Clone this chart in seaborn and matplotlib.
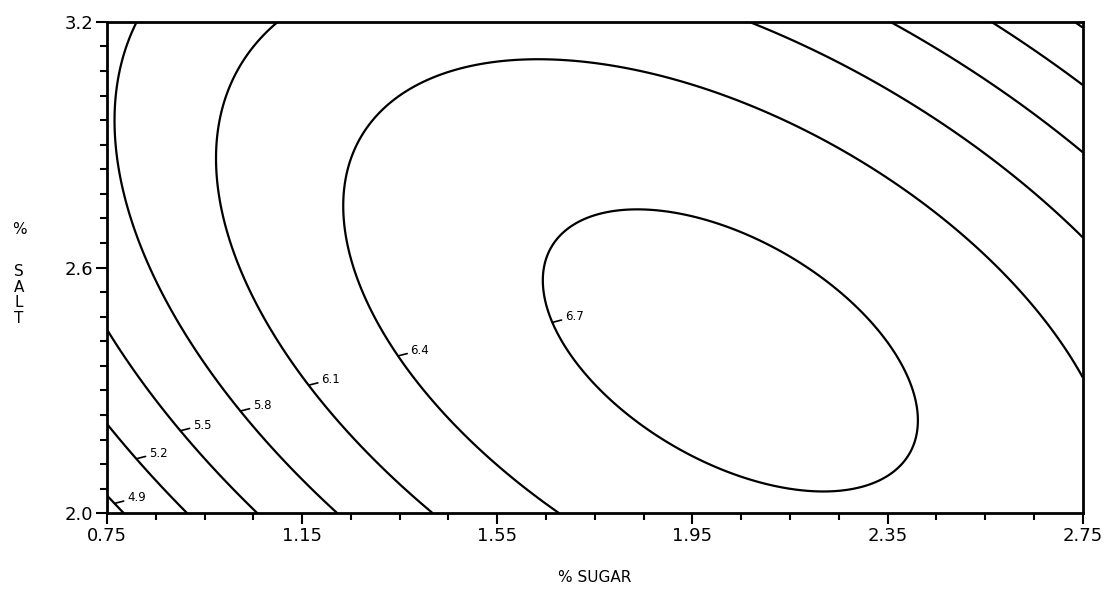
import numpy as np
import matplotlib
matplotlib.use("Agg")
import matplotlib.pyplot as plt
import seaborn as sns

# contour crossings: (% sugar, % salt, level)
sugar_pts = [0.787, 0.914, 1.053, 1.217, 1.422, 1.668,
             0.818, 1.098, 2.074, 2.354, 2.553, 2.723,
             0.75, 0.75, 0.75,
             2.75, 2.75, 2.75, 2.75, 2.75,
             1.848, 1.631, 2.170, 2.416,
             1.658, 1.238, 0.975, 0.766,
             1.357, 1.176, 1.033, 0.910, 0.814]
salt_pts = [2.0, 2.0, 2.0, 2.0, 2.0, 2.0,
            3.2, 3.2, 3.2, 3.2, 3.2, 3.2,
            2.039, 2.208, 2.423,
            2.325, 2.672, 2.883, 3.051, 3.193,
            2.758, 2.587, 2.056, 2.244,
            3.120, 2.692, 2.846, 2.968,
            2.386, 2.313, 2.252, 2.203, 2.134]
level_pts = [4.9, 5.2, 5.5, 5.8, 6.1, 6.4,
             5.8, 6.1, 6.1, 5.8, 5.5, 5.2,
             4.9, 5.2, 5.5,
             6.4, 6.1, 5.8, 5.5, 5.2,
             6.7, 6.7, 6.7, 6.7,
             6.4, 6.4, 6.1, 5.8,
             6.4, 6.1, 5.8, 5.5, 5.2]

levels = [4.9, 5.2, 5.5, 5.8, 6.1, 6.4, 6.7]
# where each level's label sits on its line
label_sugar = [0.766, 0.814, 0.910, 1.029, 1.170, 1.357, 1.658]
label_salt = [2.024, 2.134, 2.203, 2.252, 2.313, 2.386, 2.465]

x_ticks = [0.75, 1.15, 1.55, 1.95, 2.35, 2.75]
y_ticks = [2.0, 2.6, 3.2]

# second-order response surface fitted to the read points
px = np.array(sugar_pts)
py = np.array(salt_pts)
A = np.column_stack([np.ones_like(px), px, py, px**2, py**2, px * py])
beta, *_ = np.linalg.lstsq(A, np.array(level_pts), rcond=None)

gx, gy = np.meshgrid(np.linspace(0.75, 2.75, 400), np.linspace(2.0, 3.2, 400))
gz = (beta[0] + beta[1] * gx + beta[2] * gy + beta[3] * gx**2
      + beta[4] * gy**2 + beta[5] * gx * gy)

sns.set_style("ticks")
plt.rcParams['font.family'] = ['DejaVu Sans']
plt.rcParams['text.color'] = 'black'
plt.rcParams['axes.labelcolor'] = 'black'

fig = plt.figure(figsize=(11.14, 5.92), dpi=100)
ax = fig.add_axes([0.096, 0.133, 0.876, 0.830])

cs = ax.contour(gx, gy, gz, levels=levels, colors="black", linewidths=1.6)

for i, lev in enumerate(levels):
    segs = cs.allsegs[i]
    if not segs:
        continue
    verts = np.vstack(segs)
    d = (verts[:, 0] - label_sugar[i]) ** 2 + ((verts[:, 1] - label_salt[i]) * 1.6) ** 2
    p = verts[np.argmin(d)]
    ax.annotate(f"{lev:.1f}", xy=p, xytext=(9, 4), textcoords="offset points",
                fontsize=8.5, ha="left", va="center", color="black",
                arrowprops=dict(arrowstyle="-", lw=1.2, color="black",
                                shrinkA=0, shrinkB=0))

ax.set_xlim(0.75, 2.75)
ax.set_ylim(2.0, 3.2)
ax.set_xticks(x_ticks)
ax.set_xticklabels([f"{v:.2f}" for v in x_ticks])
ax.set_xticks(np.arange(0.75, 2.76, 0.1), minor=True)
ax.set_yticks(y_ticks)
ax.set_yticklabels([f"{v:.1f}" for v in y_ticks])
ax.set_yticks(np.linspace(2.0, 3.2, 21), minor=True)

ax.tick_params(axis="both", which="major", direction="out", length=8, width=1.5,
               labelsize=13, colors="black", pad=2)
ax.tick_params(axis="both", which="minor", direction="out", length=5, width=1.5,
               colors="black")
for s in ax.spines.values():
    s.set_linewidth(2)
    s.set_color("black")

ax.set_xlabel("% SUGAR", fontsize=11, labelpad=18, color="black")
fig.text(0.017, 0.612, "%", fontsize=11, ha="center", va="center", color="black")
fig.text(0.017, 0.502, "S\nA\nL\nT", fontsize=11, ha="center", va="center",
         linespacing=1.05, color="black")

fig.savefig("out.png", dpi=100, facecolor="white")
